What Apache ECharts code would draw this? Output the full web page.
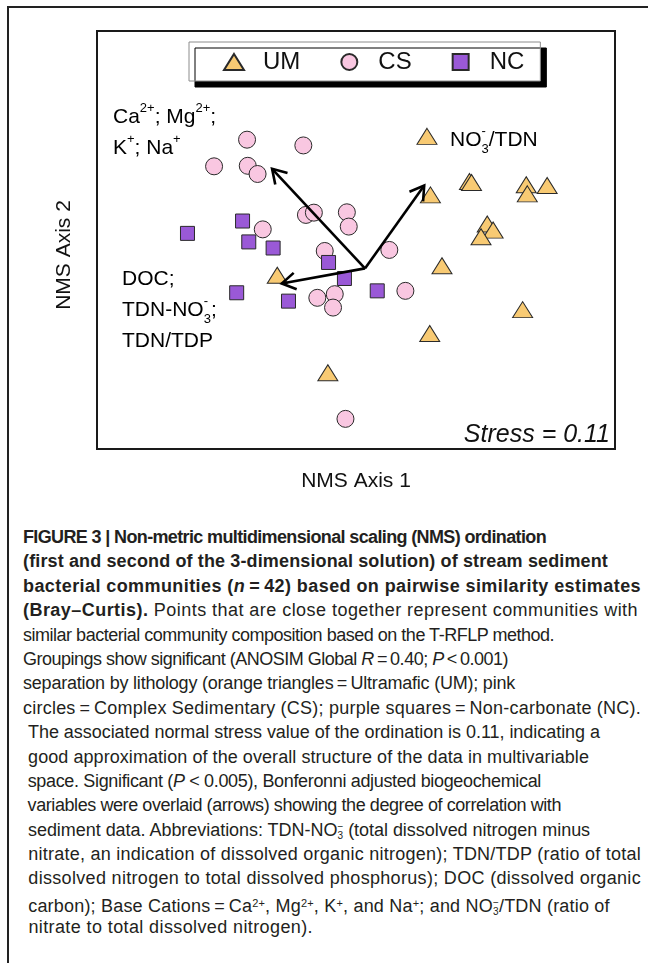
<!DOCTYPE html>
<html><head><meta charset="utf-8">
<script src="https://cdn.jsdelivr.net/npm/echarts@6/dist/echarts.min.js"></script>
<style>
html,body{margin:0;padding:0;background:#fff;}
#wrap{position:relative;width:656px;height:963px;overflow:hidden;background:#fff;}
#chart{position:absolute;left:0;top:0;width:656px;height:505px;}
#frameL{position:absolute;left:7px;top:6px;width:2px;height:957px;background:#222;}
#frameT{position:absolute;left:7px;top:6px;width:641px;height:2px;background:#222;}
#cap{position:absolute;left:23px;top:525px;font-family:'Liberation Sans',Arial,sans-serif;font-size:18px;line-height:24.4px;color:#231f20;white-space:nowrap;}
#cap div{height:24.4px;}
.st{display:inline-flex;flex-direction:column;font-size:10px;line-height:9px;vertical-align:6px;text-align:left;}
.sp{font-size:11px;vertical-align:5px;}
</style></head>
<body><div id="wrap">
<div id="chart"></div>
<div id="frameL"></div><div id="frameT"></div>
<div id="cap"></div>
</div>
<script>
// ---- data (NMS axis units) ----
const groups = ['UM', 'CS', 'NC'];
const umPoints = [[0.411,0.595],[0.657,0.336],[0.669,0.330],[0.431,0.259],[0.986,0.317],[0.992,0.265],[1.107,0.313],[0.760,0.092],[0.794,0.057],[0.724,0.019],[0.498,-0.148],[-0.456,-0.202],[0.965,-0.400],[0.427,-0.537],[-0.163,-0.762]];
const csPoints = [[-0.631,0.576],[-0.305,0.543],[-0.822,0.423],[-0.627,0.426],[-0.570,0.379],[-0.290,0.144],[-0.244,0.157],[-0.053,0.159],[-0.042,0.077],[-0.540,0.061],[-0.181,-0.063],[0.193,-0.057],[-0.224,-0.332],[-0.123,-0.311],[-0.133,-0.388],[0.286,-0.292],[-0.061,-1.027]];
const ncPoints = [[-0.976,0.038],[-0.657,0.109],[-0.621,-0.011],[-0.480,-0.046],[-0.159,-0.129],[-0.067,-0.221],[-0.691,-0.303],[-0.391,-0.351],[0.123,-0.292]];
const arrowOrigin = [0.052, -0.163];
const arrowTips = [[-0.486,0.409],[0.395,0.313],[-0.430,-0.250]];
const xRange = [-1.5, 1.5];
const yRange = [-1.2, 1.2];

const FONT = 'Liberation Sans, Arial, Helvetica, sans-serif';
const edge = '#2a2a2a';
const chart = echarts.init(document.getElementById('chart'), null, {renderer: 'canvas'});

const rich = {
  n: {fontSize: 21, lineHeight: 31, fontFamily: FONT, color: '#111'},
  s: {fontSize: 13, lineHeight: 16, verticalAlign: 'top', fontFamily: FONT, color: '#111'},
  b: {fontSize: 13, lineHeight: 14, verticalAlign: 'bottom', fontFamily: FONT, color: '#111'},
  z: {fontSize: 13, lineHeight: 16, verticalAlign: 'top', fontFamily: FONT, color: '#111', width: 0.01}
};

chart.setOption({
  animation: false,
  grid: {left: 97, top: 31, width: 518, height: 418, show: true, borderColor: '#1a1a1a', borderWidth: 2, backgroundColor: '#fff'},
  xAxis: {type: 'value', min: xRange[0], max: xRange[1], axisLine: {show: false}, axisTick: {show: false}, axisLabel: {show: false}, splitLine: {show: false}},
  yAxis: {type: 'value', min: yRange[0], max: yRange[1], axisLine: {show: false}, axisTick: {show: false}, axisLabel: {show: false}, splitLine: {show: false}},
  legend: {
    left: 189, top: 42, orient: 'horizontal', selectedMode: false,
    itemWidth: 20, itemHeight: 16, itemGap: 40, symbolKeepAspect: true,
    padding: [8, 16, 7, 34],
    backgroundColor: '#fff', borderColor: '#8c8c8c', borderWidth: 1,
    shadowColor: '#000', shadowBlur: 0, shadowOffsetX: 6, shadowOffsetY: 6,
    textStyle: {fontSize: 24, color: '#111', fontFamily: FONT, lineHeight: 24, padding: [0, 0, 0, 14]},
    data: [{name: 'UM', icon: 'triangle'}, {name: 'CS', icon: 'circle'}, {name: 'NC', icon: 'path://M0,0h10v10h-10z'}]
  },
  series: [
    {name: groups[0], type: 'scatter', data: umPoints, symbol: 'triangle', symbolSize: [20, 16],
     itemStyle: {color: '#F8CA73', borderColor: edge, borderWidth: 1, opacity: 1}, z: 2},
    {name: groups[1], type: 'scatter', data: csPoints, symbol: 'circle', symbolSize: 17,
     itemStyle: {color: '#F9C7E1', borderColor: edge, borderWidth: 1, opacity: 1}, z: 2},
    {name: groups[2], type: 'scatter', data: ncPoints, symbol: 'rect', symbolSize: 14,
     itemStyle: {color: '#9A59D7', borderColor: edge, borderWidth: 1, opacity: 1}, z: 2},
    {name: 'vectors', type: 'custom', z: 5, silent: true,
     data: arrowTips.map(t => [arrowOrigin[0], arrowOrigin[1], t[0], t[1]]),
     renderItem: function (params, api) {
       const p0 = api.coord([api.value(0), api.value(1)]);
       const p1 = api.coord([api.value(2), api.value(3)]);
       const ang = Math.atan2(p1[1] - p0[1], p1[0] - p0[0]);
       const L = 16, a = 0.55;
       const h1 = [p1[0] - L * Math.cos(ang - a), p1[1] - L * Math.sin(ang - a)];
       const h2 = [p1[0] - L * Math.cos(ang + a), p1[1] - L * Math.sin(ang + a)];
       return {type: 'group', children: [
         {type: 'line', shape: {x1: p0[0], y1: p0[1], x2: p1[0], y2: p1[1]}, style: {stroke: '#000', lineWidth: 2.6}},
         {type: 'polyline', shape: {points: [h1, p1, h2]}, style: {stroke: '#000', lineWidth: 2.6, fill: null}}
       ]};
     }}
  ],
  graphic: [
    {type: 'text', x: 113, y: 102, z: 10, style: {text: '{n|Ca}{s|2+}{n|; Mg}{s|2+}{n|;}\n{n|K}{s|+}{n|; Na}{s|+}', rich: rich}},
    {type: 'text', x: 450, y: 125, z: 10, style: {text: '{n|NO}{z|-}{b|3}{n|/TDN}', rich: rich}},
    {type: 'text', x: 122, y: 264, z: 10, style: {text: '{n|DOC;}\n{n|TDN-NO}{z|-}{b|3}{n|;}\n{n|TDN/TDP}', rich: rich}},
    {type: 'text', x: 610, y: 435, z: 10, style: {text: 'Stress = 0.11', font: 'italic 25px ' + FONT, fill: '#111', align: 'right', verticalAlign: 'middle'}},
    {type: 'text', x: 356, y: 481, z: 10, style: {text: 'NMS Axis 1', font: '21px ' + FONT, fill: '#111', align: 'center', verticalAlign: 'middle'}},
    {type: 'text', x: 64, y: 255, rotation: Math.PI / 2, z: 10, style: {text: 'NMS Axis 2', font: '21px ' + FONT, fill: '#111', align: 'center', verticalAlign: 'middle'}}
  ]
});

// ---- caption ----
const st = '<span class="st"><span>&minus;</span><span>3</span></span>';
const captionLines = [
  '<b>FIGURE 3 | Non-metric multidimensional scaling (NMS) ordination</b>',
  '<b>(first and second of the 3-dimensional solution) of stream sediment</b>',
  '<b>bacterial communities (<i>n</i>&#8201;=&#8201;42) based on pairwise similarity estimates</b>',
  '<b>(Bray&ndash;Curtis).</b> Points that are close together represent communities with',
  'similar bacterial community composition based on the T-RFLP method.',
  'Groupings show significant (ANOSIM Global <i>R</i>&#8201;=&#8201;0.40; <i>P</i>&#8201;&lt;&#8201;0.001)',
  'separation by lithology (orange triangles&#8201;=&#8201;Ultramafic (UM); pink',
  'circles&#8201;=&#8201;Complex Sedimentary (CS); purple squares&#8201;=&#8201;Non-carbonate (NC).',
  '&nbsp;The associated normal stress value of the ordination is 0.11, indicating a',
  '&nbsp;good approximation of the overall structure of the data in multivariable',
  '&nbsp;space. Significant (<i>P</i> &lt; 0.005), Bonferonni adjusted biogeochemical',
  '&nbsp;variables were overlaid (arrows) showing the degree of correlation with',
  '&nbsp;sediment data. Abbreviations: TDN-NO' + st + ' (total dissolved nitrogen minus',
  '&nbsp;nitrate, an indication of dissolved organic nitrogen); TDN/TDP (ratio of total',
  '&nbsp;dissolved nitrogen to total dissolved phosphorus); DOC (dissolved organic',
  '&nbsp;carbon); Base Cations&#8201;=&#8201;Ca<span class="sp">2+</span>, Mg<span class="sp">2+</span>, K<span class="sp">+</span>, and Na<span class="sp">+</span>; and NO' + st + '/TDN (ratio of',
  '&nbsp;nitrate to total dissolved nitrogen).'
];
// right edge (page x) of each caption line in the reference layout
const captionRight = [546, 608, 641, 638, 554, 508, 515, 641, 600, 589, 541, 561, 590, 641, 641, 610, 313];
const cap = document.getElementById('cap');
cap.innerHTML = captionLines.map(l => '<div><span class="ln">' + l + '</span></div>').join('');
const capLeft = cap.getBoundingClientRect().left;
cap.querySelectorAll('.ln').forEach((sp, i) => {
  const w = sp.getBoundingClientRect().width;
  const n = sp.textContent.length;
  const target = captionRight[i] - capLeft;
  sp.style.letterSpacing = ((target - w) / n).toFixed(3) + 'px';
});
</script>
</body></html>
